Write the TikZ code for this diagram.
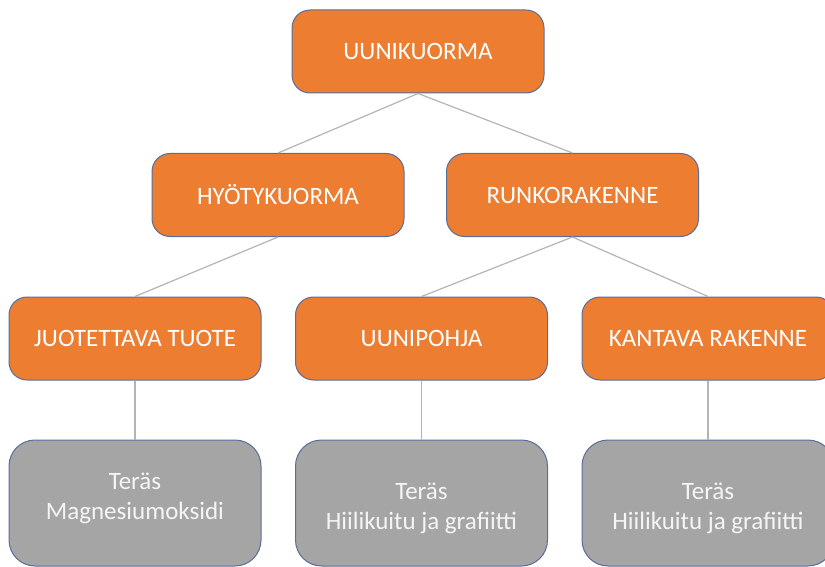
\documentclass[tikz,border=0pt]{standalone}
\usepackage{fontspec}
\setmainfont{Carlito}
\definecolor{boxorange}{HTML}{ED7D31}
\definecolor{boxgray}{HTML}{A5A5A5}
\definecolor{boxedge}{HTML}{5A6D98}
\definecolor{linkgray}{HTML}{B4B4B4}
\begin{document}
\begin{tikzpicture}[x=1pt,y=-1pt,
  obox/.style={draw=boxedge,line width=1pt,fill=boxorange,rounded corners=18pt,
    minimum width=252pt,minimum height=83pt,inner sep=0pt,text=white,
    font=\fontsize{25}{30}\selectfont},
  gbox/.style={draw=boxedge,line width=1pt,fill=boxgray,rounded corners=26pt,
    minimum width=252pt,minimum height=126pt,inner sep=0pt},
  gtext/.style={align=center,inner sep=0pt,text=white!96!black,
    font=\fontsize{25}{30}\selectfont},
  link/.style={draw=linkgray,line width=1.2pt}]
\useasboundingbox (0,0) rectangle (825,567);
% top level
\node[obox] (uuni) at (418,51.5) {UUNIKUORMA};
\node[obox] (hyoty) at (278,195) {HYÖTYKUORMA};
\node[obox] (runko) at (572.5,195) {RUNKORAKENNE};
% third row
\node[obox] (juot) at (135,338.5) {JUOTETTAVA TUOTE};
\node[obox] (pohja) at (421.5,338.5) {UUNIPOHJA};
\node[obox] (kant) at (708,338.5) {KANTAVA RAKENNE};
% materials
\node[gbox] (mat1) at (135,503) {};
\node[gbox] (mat2) at (421.5,503) {};
\node[gbox] (mat3) at (708,503) {};
\node[gtext] (txt1) at (135,498.5) {Teräs\\Magnesiumoksidi};
\node[gtext] (txt2) at (421.5,508.5) {Teräs\\Hiilikuitu ja grafiitti};
\node[gtext] (txt3) at (708,508.5) {Teräs\\Hiilikuitu ja grafiitti};
% links
\draw[link] (uuni.south) -- (hyoty.north);
\draw[link] (uuni.south) -- (runko.north);
\draw[link] (hyoty.south) -- (juot.north);
\draw[link] (runko.south) -- (pohja.north);
\draw[link] (runko.south) -- (kant.north);
\draw[link] (juot.south) -- (mat1.north);
\draw[link] (pohja.south) -- (mat2.north);
\draw[link] (kant.south) -- (mat3.north);
\end{tikzpicture}
\end{document}
